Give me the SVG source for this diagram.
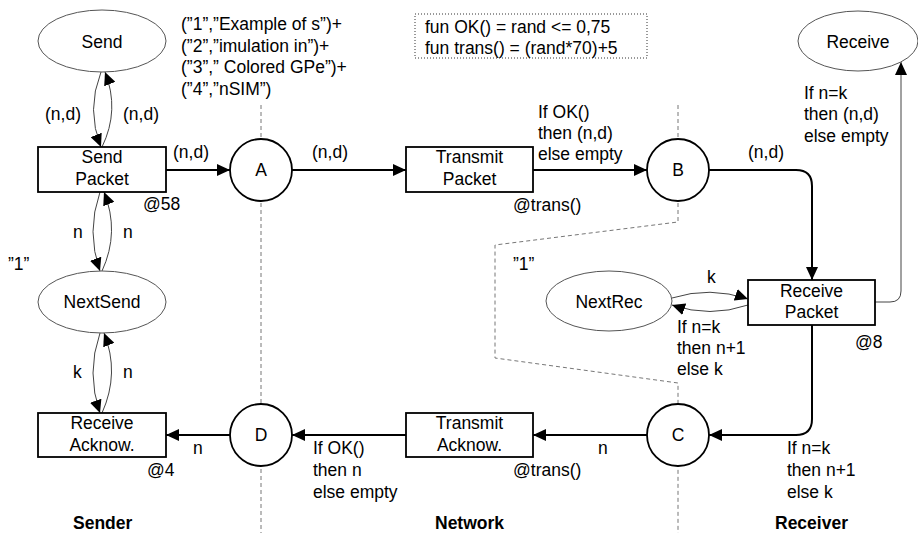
<svg xmlns="http://www.w3.org/2000/svg" width="918" height="533" viewBox="0 0 918 533">
  <style>
    text { font-family: "Liberation Sans", Arial, sans-serif; font-size: 17.5px; fill: #000; }
    .c { text-anchor: middle; }
    .b { font-weight: bold; }
    .place { fill: #fff; stroke: #000; stroke-width: 1.8; }
    .state { fill: #fff; stroke: #555; stroke-width: 1; }
    .trans { fill: #fff; stroke: #000; stroke-width: 1.8; }
    .arc { fill: none; stroke: #000; stroke-width: 2; marker-end: url(#ah); }
    .thin { fill: none; stroke: #444; stroke-width: 1; marker-end: url(#ah); }
    .zone { fill: none; stroke: #777; stroke-width: 1; stroke-dasharray: 4 3; }
    .decl { fill: none; stroke: #333; stroke-width: 1; stroke-dasharray: 1 2; }
  </style>
  <defs>
    <marker id="ah" markerUnits="userSpaceOnUse" markerWidth="13" markerHeight="12" refX="13" refY="6" orient="auto">
      <path d="M0,0 L13,6 L0,12 z" fill="#000"/>
    </marker>
  </defs>

  <rect width="918" height="533" fill="#fff"/>

  <!-- zone boundaries -->
  <g id="zones">
    <path class="zone" d="M261,105 V533"/>
    <path class="zone" d="M678,105 V222 L495,245 V358 L678,383 V533"/>
  </g>

  <!-- declarations -->
  <g id="declarations">
    <rect class="decl" x="415" y="14" width="232" height="44"/>
    <text x="425" y="33">fun OK() = rand &lt;= 0,75</text>
    <text x="425" y="54">fun trans() = (rand*70)+5</text>
    <text x="181" y="30">(”1”,”Example of s”)+</text>
    <text x="181" y="51.5">(”2”,”imulation in”)+</text>
    <text x="181" y="73">(”3”,” Colored GPe”)+</text>
    <text x="181" y="94.5">(”4”,”nSIM”)</text>
  </g>

  <!-- connectors -->
  <g id="connectors">
    <path class="thin" d="M101,72 Q86,110 101,147"/>
    <path class="thin" d="M102,147 Q120,110 105,72"/>
    <path class="thin" d="M100,192 Q86,232 100,271"/>
    <path class="thin" d="M102,271 Q120,232 104,192"/>
    <path class="thin" d="M100,333 Q86,373 100,413"/>
    <path class="thin" d="M102,413 Q120,373 104,333"/>
    <path class="arc" d="M166,170 H230"/>
    <path class="arc" d="M292,170 H406"/>
    <path class="arc" d="M533,170 H647"/>
    <path class="arc" d="M709,170 H796 Q812,170 812,186 V280"/>
    <path class="thin" d="M875,302 H890 Q901,302 901,291 V62"/>
    <path class="thin" d="M672,298 Q710,286 748,299"/>
    <path class="thin" d="M748,305 Q710,318 672,305"/>
    <path class="arc" d="M812,325 V419 Q812,435 796,435 H709"/>
    <path class="arc" d="M647,435 H533"/>
    <path class="arc" d="M406,435 H292"/>
    <path class="arc" d="M230,435 H166"/>
  </g>

  <!-- connector labels -->
  <g id="labels">
    <text x="45" y="120">(n,d)</text>
    <text x="123" y="120">(n,d)</text>
    <text x="173" y="158">(n,d)</text>
    <text x="143" y="210">@58</text>
    <text x="8" y="270">”1”</text>
    <text x="73" y="238">n</text>
    <text x="123" y="238">n</text>
    <text x="73" y="378">k</text>
    <text x="123" y="378">n</text>
    <text x="147" y="476">@4</text>
    <text x="193" y="454">n</text>
    <text x="312" y="158">(n,d)</text>
    <text x="538" y="118">If OK()</text>
    <text x="538" y="139">then (n,d)</text>
    <text x="538" y="160">else empty</text>
    <text x="513" y="211">@trans()</text>
    <text x="748" y="158">(n,d)</text>
    <text x="804" y="99">If n=k</text>
    <text x="804" y="120">then (n,d)</text>
    <text x="804" y="142">else empty</text>
    <text x="513" y="270">”1”</text>
    <text x="707" y="283">k</text>
    <text x="677" y="333">If n=k</text>
    <text x="677" y="354">then n+1</text>
    <text x="677" y="375">else k</text>
    <text x="855" y="348">@8</text>
    <text x="787" y="454">If n=k</text>
    <text x="787" y="476">then n+1</text>
    <text x="787" y="498">else k</text>
    <text x="598" y="454">n</text>
    <text x="513" y="476">@trans()</text>
    <text x="313" y="454">If OK()</text>
    <text x="313" y="476">then n</text>
    <text x="313" y="498">else empty</text>
  </g>

  <!-- state places -->
  <g id="send"><ellipse class="state" cx="102" cy="41" rx="64" ry="31"/><text class="c" x="102" y="48">Send</text></g>
  <g id="next-send"><ellipse class="state" cx="102" cy="302" rx="64" ry="31"/><text class="c" x="102" y="308">NextSend</text></g>
  <g id="receive"><ellipse class="state" cx="858" cy="41" rx="60" ry="30"/><text class="c" x="858" y="48">Receive</text></g>
  <g id="next-rec"><ellipse class="state" cx="609" cy="301" rx="63" ry="30"/><text class="c" x="609" y="308">NextRec</text></g>

  <!-- transitions -->
  <g id="send-packet"><rect class="trans" x="38" y="147" width="128" height="45"/><text class="c" x="102" y="163">Send</text><text class="c" x="102" y="185">Packet</text></g>
  <g id="transmit-packet"><rect class="trans" x="406" y="147" width="127" height="45"/><text class="c" x="469.5" y="163">Transmit</text><text class="c" x="469.5" y="185">Packet</text></g>
  <g id="receive-packet"><rect class="trans" x="748" y="280" width="127" height="45"/><text class="c" x="811.5" y="297">Receive</text><text class="c" x="811.5" y="318">Packet</text></g>
  <g id="transmit-ack"><rect class="trans" x="406" y="413" width="127" height="44"/><text class="c" x="469.5" y="429">Transmit</text><text class="c" x="469.5" y="451">Acknow.</text></g>
  <g id="receive-ack"><rect class="trans" x="38" y="413" width="128" height="44"/><text class="c" x="102" y="429">Receive</text><text class="c" x="102" y="451">Acknow.</text></g>

  <!-- network buffers -->
  <g id="place-a"><circle class="place" cx="261" cy="170" r="31"/><text class="c" x="261" y="176">A</text></g>
  <g id="place-b"><circle class="place" cx="678" cy="170" r="31"/><text class="c" x="678" y="176">B</text></g>
  <g id="place-c"><circle class="place" cx="678" cy="435" r="31"/><text class="c" x="678" y="441">C</text></g>
  <g id="place-d"><circle class="place" cx="261" cy="435" r="31"/><text class="c" x="261" y="441">D</text></g>

  <!-- zone titles -->
  <g id="titles">
    <text class="b" x="73" y="529">Sender</text>
    <text class="b" x="435" y="529">Network</text>
    <text class="b" x="775" y="529">Receiver</text>
  </g>
</svg>
